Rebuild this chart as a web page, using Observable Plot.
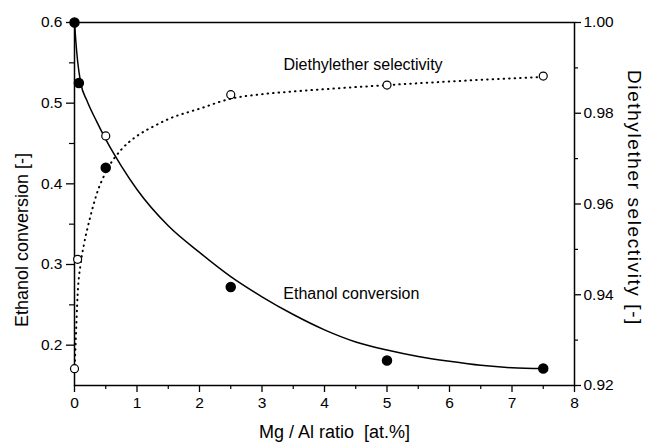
<!DOCTYPE html>
<html><head><meta charset="utf-8">
<script src="https://cdn.jsdelivr.net/npm/d3@7"></script>
<script src="https://cdn.jsdelivr.net/npm/@observablehq/plot@0.6"></script>
<style>
  html,body{margin:0;padding:0;background:#fff;}
  #chart svg{display:block;}
</style>
</head><body><div id="chart"></div>
<script>
// Measured points
const ratioEthanol = [0, 0.07, 0.5, 2.5, 5, 7.5];
const ethanolConversion = [0.600, 0.525, 0.420, 0.272, 0.181, 0.171];
const ratioSelectivity = [0, 0.05, 0.5, 2.5, 5, 7.5];
const etherSelectivity = [0.9237, 0.9478, 0.975, 0.9841, 0.9862, 0.9882];

// Fitted curves
const fitEthanolX = [0, 0.02, 0.05, 0.1, 0.2, 0.35, 0.5, 0.75, 1.0, 1.5, 2.0, 2.5, 3.0, 3.5, 4.0, 4.5, 5.0, 5.5, 6.0, 6.5, 7.0, 7.5];
const fitEthanolY = [0.600, 0.578, 0.552, 0.525, 0.503, 0.478, 0.455, 0.422, 0.393, 0.348, 0.315, 0.285, 0.260, 0.238, 0.219, 0.204, 0.194, 0.186, 0.180, 0.175, 0.172, 0.171];
const fitSelX = [0, 0.02, 0.05, 0.1, 0.15, 0.25, 0.35, 0.5, 0.75, 1.0, 1.25, 1.5, 2.0, 2.5, 3.0, 3.5, 4.0, 5.0, 6.0, 7.0, 7.5];
const fitSelY = [0.923, 0.930, 0.940, 0.947, 0.951, 0.957, 0.962, 0.967, 0.972, 0.975, 0.977, 0.9787, 0.981, 0.9832, 0.9842, 0.9848, 0.9853, 0.9862, 0.9870, 0.9877, 0.988];

// Ticks
const xMajor = [0, 1, 2, 3, 4, 5, 6, 7, 8];
const xMinor = [0.5, 1.5, 2.5, 3.5, 4.5, 5.5, 6.5, 7.5];
const yMajor = [0.2, 0.3, 0.4, 0.5, 0.6];
const yMinor = [0.25, 0.35, 0.45, 0.55];
const selMajor = [0.92, 0.94, 0.96, 0.98, 1.00];
const selMinor = [0.93, 0.95, 0.97, 0.99];

// Axis domains
const leftDomain = [0.15, 0.6];
const rightDomain = [0.92, 1.00];
const k = (leftDomain[1] - leftDomain[0]) / (rightDomain[1] - rightDomain[0]);
const toLeft = s => leftDomain[0] + (s - rightDomain[0]) * k;
const toSel = v => rightDomain[0] + (v - leftDomain[0]) / k;

const ethPts = ratioEthanol.map((x, i) => ({x, y: ethanolConversion[i]}));
const selPts = ratioSelectivity.map((x, i) => ({x, y: toLeft(etherSelectivity[i])}));
const ethFit = fitEthanolX.map((x, i) => ({x, y: fitEthanolY[i]}));
const selFit = fitSelX.map((x, i) => ({x, y: toLeft(fitSelY[i])}));

const rightTitle = "Diethylether selectivity [-]";

const chart = Plot.plot({
  width: 646, height: 443,
  marginLeft: 74, marginRight: 72, marginTop: 22, marginBottom: 58,
  style: {fontFamily: "'Liberation Sans', Arial, sans-serif", fontSize: "15.5px", color: "black", background: "white"},
  x: {domain: [0, 8]},
  y: {domain: leftDomain},
  marks: [
    Plot.frame({stroke: "black", strokeWidth: 1.5}),
    Plot.axisX({ticks: xMajor, tickSize: 7, tickPadding: 4, tickFormat: d => String(d), label: null, strokeWidth: 1.3, fontSize: 15.5}),
    Plot.axisX({ticks: xMinor, tickSize: 4, tickFormat: () => "", label: null, strokeWidth: 1.2}),
    Plot.axisY({ticks: yMajor, tickSize: 8, tickPadding: 4, tickFormat: d => d.toFixed(1), label: null, strokeWidth: 1.3, fontSize: 15.5}),
    Plot.axisY({ticks: yMinor, tickSize: 5, tickFormat: () => "", label: null, strokeWidth: 1.2}),
    Plot.axisY({anchor: "right", ticks: selMajor.map(toLeft), tickSize: 6, tickPadding: 3, tickFormat: d => toSel(d).toFixed(2), label: null, strokeWidth: 1.3, fontSize: 15.5}),
    Plot.axisY({anchor: "right", ticks: selMinor.map(toLeft), tickSize: 3, tickFormat: () => "", label: null, strokeWidth: 1.2}),
    Plot.line(selFit, {x: "x", y: "y", curve: "monotone-x", stroke: "black", strokeWidth: 2, strokeDasharray: "0.5,5", strokeLinecap: "round"}),
    Plot.line(ethFit, {x: "x", y: "y", curve: "monotone-x", stroke: "black", strokeWidth: 1.5}),
    Plot.dot(selPts, {x: "x", y: "y", r: 4, fill: "white", stroke: "black", strokeWidth: 1.2}),
    Plot.dot(ethPts, {x: "x", y: "y", r: 4.5, fill: "black", stroke: "black"}),
    Plot.text(["Diethylether selectivity"], {x: 4.616, y: 0.548, text: d => d, fontSize: 16}),
    Plot.text(["Ethanol conversion"], {x: 4.43, y: 0.264, text: d => d, fontSize: 16}),
    Plot.text(["Ethanol conversion [-]"], {frameAnchor: "left", textAnchor: "middle", lineAnchor: "middle", dx: -52, dy: 36, rotate: -90, text: d => d, fontSize: 18}),
    Plot.text([rightTitle], {frameAnchor: "right", textAnchor: "middle", lineAnchor: "middle", dx: 60, dy: -6, rotate: 90, text: d => d, fontSize: 19}),
    Plot.text(["Mg / Al ratio\u00a0 [at.%]"], {frameAnchor: "bottom", textAnchor: "middle", lineAnchor: "middle", dx: 10, dy: 47, text: d => d, fontSize: 18})
  ]
});
d3.select(chart).selectAll("text").filter(function() { return this.textContent === rightTitle; }).style("letter-spacing", "1.6px");
document.getElementById("chart").appendChild(chart);
</script>
</body></html>
